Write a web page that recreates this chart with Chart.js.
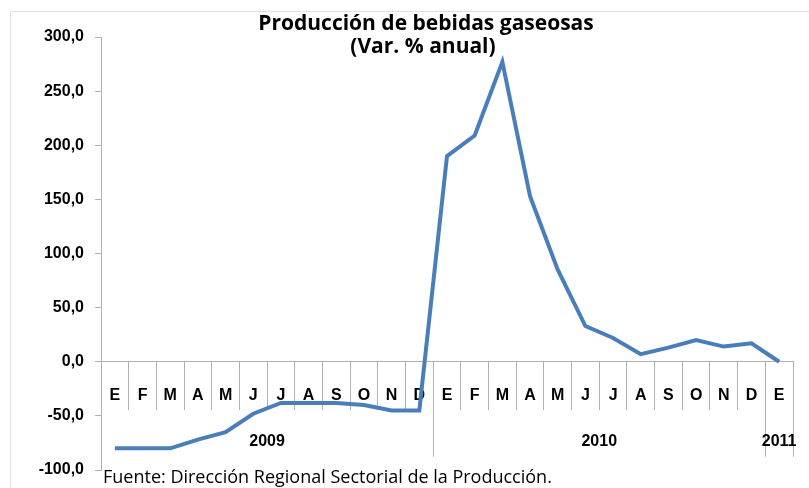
<!DOCTYPE html>
<html>
<head>
<meta charset="utf-8">
<script src="https://cdn.jsdelivr.net/npm/chart.js@4.4.0/dist/chart.umd.min.js"></script>
<style>
  html, body { margin: 0; padding: 0; background: #fff; }
</style>
</head>
<body>
<canvas id="chart" width="809" height="488"></canvas>
<script>
// months E..D for 2009 and 2010, plus E 2011
const months = ['E','F','M','A','M','J','J','A','S','O','N','D',
                'E','F','M','A','M','J','J','A','S','O','N','D',
                'E'];
const years = ['2009', '2010', '2011'];
const yearStart = [0, 12, 24]; // index of first month of each year
const variacion = [-80, -80, -80, -72, -65, -48, -38, -38, -38, -40, -45, -45,
                   190, 209, 277, 153, 85, 33, 22, 7, 13, 20, 14, 17,
                   0];
const yTicks = [-100, -50, 0, 50, 100, 150, 200, 250, 300];

const titleLines = ['Producción de bebidas gaseosas', '(Var. % anual)'];
const fuente = 'Fuente: Dirección Regional Sectorial de la Producción.';

const axisGrey = '#b0b0b0';
const boldFont = { family: "'Liberation Sans', Arial, sans-serif", weight: 'bold', size: 16 };

// years under the month row, title and source text
const extras = {
  id: 'extras',
  afterDraw(chart) {
    const { ctx, scales: { x, y } } = chart;
    const y0 = y.getPixelForValue(0);
    ctx.save();

    // long separators at year boundaries
    ctx.strokeStyle = axisGrey;
    ctx.lineWidth = 1;
    const bounds = yearStart.concat([months.length]);
    bounds.forEach(i => {
      const px = Math.round(x.getPixelForValue(i - 0.5)) + 0.5;
      ctx.beginPath();
      ctx.moveTo(px, y0);
      ctx.lineTo(px, y0 + 95);
      ctx.stroke();
    });

    ctx.fillStyle = '#000';
    ctx.font = "bold 16px 'Liberation Sans', Arial, sans-serif";
    ctx.textAlign = 'center';
    ctx.textBaseline = 'middle';
    years.forEach((yr, k) => {
      const a = bounds[k], b = bounds[k + 1] - 1;
      ctx.fillText(yr, x.getPixelForValue((a + b) / 2), y0 + 80);
    });

    ctx.font = "bold 21px 'Open Sans', Lato, sans-serif";
    ctx.textBaseline = 'alphabetic';
    ctx.fillText(titleLines[0], 426, 30);
    ctx.fillText(titleLines[1], 423, 53);

    ctx.font = "18px 'Open Sans', Lato, sans-serif";
    ctx.textAlign = 'left';
    ctx.fillText(fuente, 103, 483);

    // faint chart border
    ctx.strokeStyle = '#e0e0e0';
    ctx.beginPath();
    ctx.moveTo(10.5, 488);
    ctx.lineTo(10.5, 11.5);
    ctx.lineTo(809, 11.5);
    ctx.stroke();
    ctx.restore();
  }
};

new Chart(document.getElementById('chart'), {
  type: 'line',
  data: {
    labels: months,
    datasets: [{
      data: variacion,
      borderColor: '#4a7ebb',
      borderWidth: 4,
      pointRadius: 0,
      tension: 0,
      fill: false
    }]
  },
  options: {
    responsive: false,
    animation: false,
    layout: { padding: { left: 11, top: 37, right: 16, bottom: 18 } },
    plugins: {
      legend: { display: false },
      tooltip: { enabled: false }
    },
    scales: {
      x: {
        position: { y: 0 },
        offset: true,
        grid: { offset: true, drawOnChartArea: false, tickLength: 48, color: axisGrey },
        border: { color: axisGrey },
        ticks: { autoSkip: false, maxRotation: 0, padding: -24, color: '#000', font: boldFont }
      },
      y: {
        min: -100,
        max: 300,
        afterFit: s => { s.width = 90; s.paddingBottom = 0; s.paddingTop = 0; },
        afterBuildTicks: s => { s.ticks = yTicks.map(v => ({ value: v })); },
        grid: { drawOnChartArea: false, tickLength: 6, color: axisGrey },
        border: { color: axisGrey },
        ticks: {
          padding: 11,
          color: '#000',
          font: boldFont,
          callback: v => v.toFixed(1).replace('.', ',')
        }
      }
    }
  },
  plugins: [extras]
});
</script>
</body>
</html>
